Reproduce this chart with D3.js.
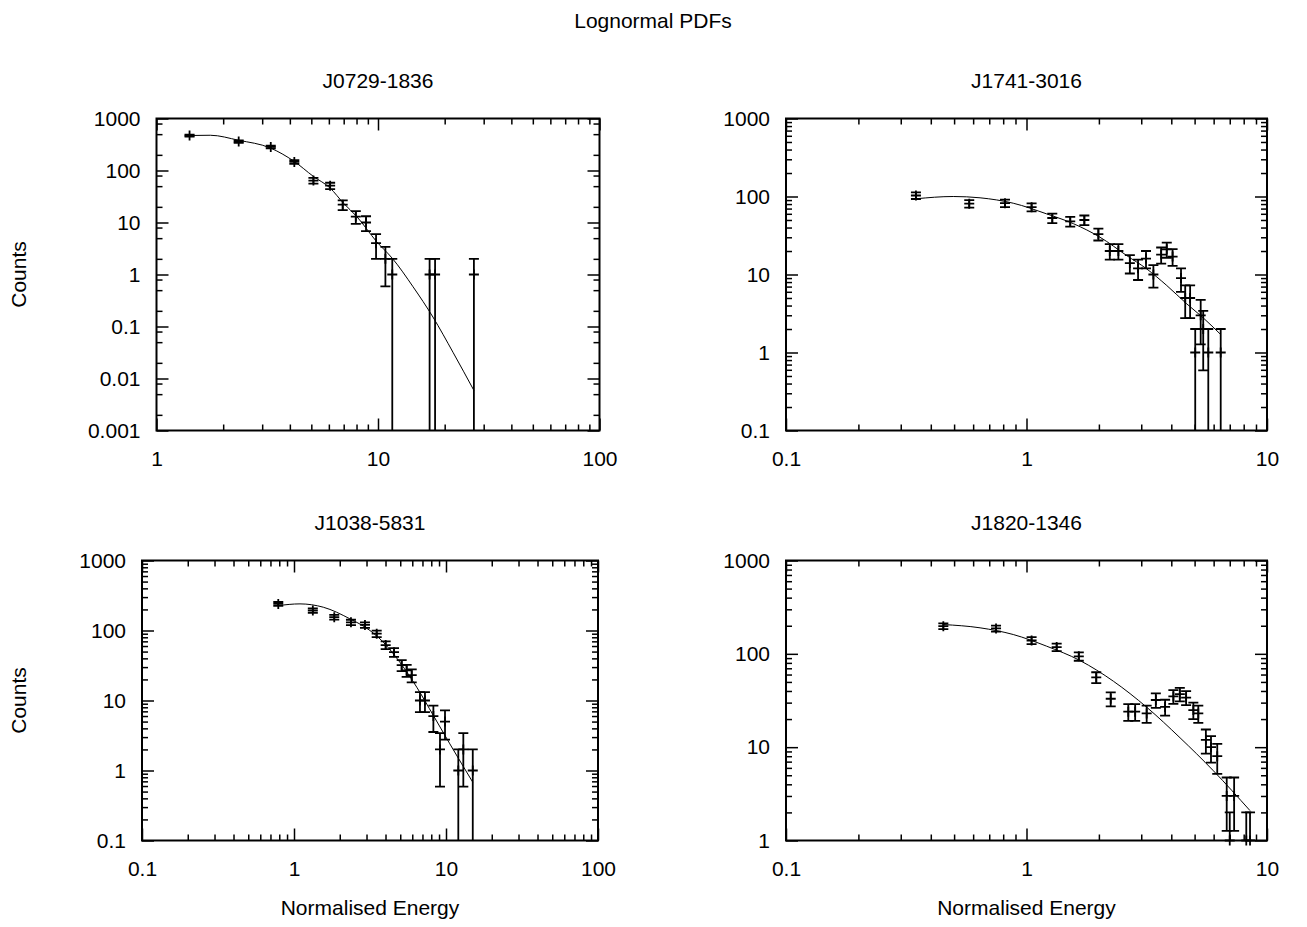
<!DOCTYPE html>
<html>
<head>
<meta charset="utf-8">
<script src="https://cdnjs.cloudflare.com/ajax/libs/d3/7.8.5/d3.min.js"></script>
<style>
  body { margin: 0; background: #fff; }
  text { font-family: "Liberation Sans", Arial, Helvetica, sans-serif; fill: #000; }
</style>
</head>
<body>
<div id="chart"></div>
<script>
// Títulos dos painéis
const names = ["J0729-1836", "J1741-3016", "J1038-5831", "J1820-1346"];

// J0729-1836
const energy1 = [1.41, 2.35, 3.28, 4.19, 5.11, 6.08, 6.93, 7.94, 8.83, 9.8, 10.8, 11.6, 17.1, 18.1, 27.1];
const counts1 = [470, 360, 284, 146, 64, 51, 22, 13, 10, 4, 2, 1, 1, 1, 1];
const errs1 = [21.7, 19, 16.9, 12.1, 8, 7.1, 4.7, 3.6, 3.2, 2, 1.41, 1, 1, 1, 1];
const fitE1 = [1.35, 1.75, 2.35, 3.26, 4.18, 5.11, 6.08, 6.98, 8.02, 9.86, 11.6, 14.4, 17.7, 21.8, 27.1];
const fitC1 = [470, 476, 381, 272, 150, 76.9, 45.9, 23.6, 13.0, 4.28, 2.05, 0.58, 0.152, 0.032, 0.0059];

// J1741-3016
const energy2 = [0.347, 0.578, 0.814, 1.05, 1.28, 1.52, 1.74, 1.99, 2.22, 2.41, 2.69, 2.91, 3.14, 3.37, 3.63, 3.83, 4.05, 4.39, 4.57, 4.79, 5.03, 5.3, 5.43, 5.7, 6.42];
const counts2 = [103, 81, 82, 73, 53, 48, 50, 33, 20, 20, 14, 12, 16, 10, 18, 21, 17, 9, 5, 5, 1, 3, 2, 1, 1];
const errs2 = [10.1, 9, 9.1, 8.5, 7.3, 6.9, 7.1, 5.7, 4.5, 4.5, 3.7, 3.5, 4, 3.2, 4.2, 4.6, 4.1, 3, 2.24, 2.24, 1, 1.73, 1.41, 1, 1];
const fitE2 = [0.347, 0.496, 0.641, 0.881, 1.21, 1.57, 2.02, 2.61, 3.16, 3.83, 4.64, 5.43, 6.42];
const fitC2 = [93.5, 100, 96.2, 82, 60, 44.7, 30.1, 17.5, 11.8, 7.23, 4.2, 2.78, 1.7];

// J1038-5831
const energy3 = [0.788, 1.33, 1.84, 2.37, 2.93, 3.5, 4.01, 4.55, 5.11, 5.51, 5.95, 6.74, 7.27, 8.26, 9.13, 9.85, 12.05, 13.0, 15.0];
const counts3 = [240, 193, 155, 131, 120, 90, 62, 49, 32, 27, 23, 10, 10, 6, 2, 5, 1, 2, 1];
const errs3 = [15.5, 13.9, 12.4, 11.4, 11, 9.5, 7.9, 7, 5.7, 5.2, 4.8, 3.16, 3.16, 2.45, 1.41, 2.24, 1, 1.41, 1];
const fitE3 = [0.788, 1.095, 1.56, 2.33, 3.16, 3.87, 4.98, 6.42, 8.26, 10.6, 15.0];
const fitC3 = [227, 240, 215, 147, 100, 68, 35, 15.5, 6.1, 2.4, 0.68];

// J1820-1346
const energy4 = [0.451, 0.747, 1.05, 1.335, 1.65, 1.95, 2.24, 2.65, 2.83, 3.16, 3.45, 3.77, 4.08, 4.34, 4.61, 4.94, 5.18, 5.57, 5.85, 6.21, 6.8, 7.0, 7.3, 8.2, 8.5];
const counts4 = [198, 187, 139, 118, 94, 56, 33, 24, 24, 23, 32, 27, 35, 37, 34, 25, 23, 12, 10, 8, 3, 1, 3, 1, 1];
const errs4 = [14.1, 13.7, 11.8, 10.9, 9.7, 7.5, 5.7, 4.9, 4.9, 4.8, 5.7, 5.2, 5.9, 6.1, 5.8, 5, 4.8, 3.46, 3.16, 2.83, 1.73, 1, 1.73, 1, 1];
const fitE4 = [0.451, 0.641, 0.881, 1.21, 1.67, 2.3, 3.16, 4.35, 5.98, 8.5];
const fitC4 = [206, 190, 161, 121, 84.7, 50.8, 26.8, 12.6, 5.6, 2.09];

// Marcas dos eixos
const xTicks1 = [1, 10, 100];
const xTicks2 = [0.1, 1, 10];
const xTicks3 = [0.1, 1, 10, 100];
const xTicks4 = [0.1, 1, 10];
const yTicks1 = [0.001, 0.01, 0.1, 1, 10, 100, 1000];
const yTicks2 = [0.1, 1, 10, 100, 1000];
const yTicks3 = [0.1, 1, 10, 100, 1000];
const yTicks4 = [1, 10, 100, 1000];

const W = 1307, H = 927;
const fmt = d3.format("~g");
const fontSize = "21px";

const panels = [
  { name: names[0], e: energy1, c: counts1, err: errs1, fe: fitE1, fc: fitC1, xt: xTicks1, yt: yTicks1,
    box: [156.5, 118.5, 599.5, 430.5], yMinor: [2, 5, 8], ylabel: true, xlabel: false },
  { name: names[1], e: energy2, c: counts2, err: errs2, fe: fitE2, fc: fitC2, xt: xTicks2, yt: yTicks2,
    box: [786, 118.5, 1267, 430.5], yMinor: [2, 3, 4, 5, 6, 7, 8, 9], ylabel: false, xlabel: false },
  { name: names[2], e: energy3, c: counts3, err: errs3, fe: fitE3, fc: fitC3, xt: xTicks3, yt: yTicks3,
    box: [142, 560.5, 598, 840.5], yMinor: [2, 3, 4, 5, 6, 7, 8, 9], ylabel: true, xlabel: true },
  { name: names[3], e: energy4, c: counts4, err: errs4, fe: fitE4, fc: fitC4, xt: xTicks4, yt: yTicks4,
    box: [786, 560.5, 1267, 840.5], yMinor: [2, 3, 4, 5, 6, 7, 8, 9], ylabel: false, xlabel: true }
];

const svg = d3.select("#chart")
  .append("svg")
  .attr("width", W)
  .attr("height", H);

svg.append("rect").attr("width", W).attr("height", H).attr("fill", "#fff");

svg.append("text")
  .attr("x", 653)
  .attr("y", 20)
  .attr("dy", "0.36em")
  .attr("text-anchor", "middle")
  .style("font-size", fontSize)
  .text("Lognormal PDFs");

// marcas menores numa escala log
function minorTicks(dom, mults) {
  const out = [];
  const k0 = Math.floor(Math.log10(dom[0]) + 1e-9);
  const k1 = Math.ceil(Math.log10(dom[1]) - 1e-9);
  for (let k = k0; k < k1; k++) {
    mults.forEach(m => {
      const v = m * Math.pow(10, k);
      if (v > dom[0] * 1.0001 && v < dom[1] * 0.9999) out.push(v);
    });
  }
  return out;
}

function styleAxis(g) {
  g.select(".domain").remove();
  g.selectAll(".tick line").attr("stroke", "#000").attr("stroke-width", 1.5);
  g.selectAll(".tick text").style("font-size", fontSize).attr("fill", "#000");
}

panels.forEach((p, i) => {
  const [x0, y0, x1, y1] = p.box;
  const xDom = [p.xt[0], p.xt[p.xt.length - 1]];
  const yDom = [p.yt[0], p.yt[p.yt.length - 1]];
  const x = d3.scaleLog().domain(xDom).range([x0, x1]);
  const y = d3.scaleLog().domain(yDom).range([y1, y0]);
  const g = svg.append("g").attr("class", "panel");

  const xMin = minorTicks(xDom, [2, 3, 4, 5, 6, 7, 8, 9]);
  const yMin = minorTicks(yDom, p.yMinor);

  // eixo inferior com rótulos
  g.append("g").attr("transform", `translate(0,${y1})`)
    .call(d3.axisBottom(x).tickValues(p.xt).tickFormat(fmt).tickSize(-12).tickPadding(21))
    .call(styleAxis);
  g.append("g").attr("transform", `translate(0,${y1})`)
    .call(d3.axisBottom(x).tickValues(xMin).tickFormat("").tickSize(-6))
    .call(styleAxis);
  // eixo superior espelhado
  g.append("g").attr("transform", `translate(0,${y0})`)
    .call(d3.axisTop(x).tickValues(p.xt).tickFormat("").tickSize(-12))
    .call(styleAxis);
  g.append("g").attr("transform", `translate(0,${y0})`)
    .call(d3.axisTop(x).tickValues(xMin).tickFormat("").tickSize(-6))
    .call(styleAxis);
  // eixo esquerdo com rótulos
  g.append("g").attr("transform", `translate(${x0},0)`)
    .call(d3.axisLeft(y).tickValues(p.yt).tickFormat(fmt).tickSize(-12).tickPadding(16))
    .call(styleAxis);
  g.append("g").attr("transform", `translate(${x0},0)`)
    .call(d3.axisLeft(y).tickValues(yMin).tickFormat("").tickSize(-6))
    .call(styleAxis);
  // eixo direito espelhado
  g.append("g").attr("transform", `translate(${x1},0)`)
    .call(d3.axisRight(y).tickValues(p.yt).tickFormat("").tickSize(-12))
    .call(styleAxis);
  g.append("g").attr("transform", `translate(${x1},0)`)
    .call(d3.axisRight(y).tickValues(yMin).tickFormat("").tickSize(-6))
    .call(styleAxis);

  // moldura
  g.append("rect")
    .attr("x", x0).attr("y", y0)
    .attr("width", x1 - x0).attr("height", y1 - y0)
    .attr("fill", "none").attr("stroke", "#000").attr("stroke-width", 2);

  // recorte da área de dados
  const clipId = "clip" + i;
  svg.append("clipPath").attr("id", clipId)
    .append("rect").attr("x", x0).attr("y", y0).attr("width", x1 - x0).attr("height", y1 - y0);

  const data = p.e.map((e, j) => ({ e: e, c: p.c[j], err: p.err[j] }));
  const plot = g.append("g").attr("clip-path", `url(#${clipId})`);

  // curva ajustada
  const fit = p.fe.map((e, j) => [e, p.fc[j]]);
  plot.append("path")
    .datum(fit)
    .attr("fill", "none")
    .attr("stroke", "#000")
    .attr("stroke-width", 1)
    .attr("d", d3.line().x(d => x(d[0])).y(d => y(d[1])).curve(d3.curveMonotoneX));

  // barras de erro
  const cap = 5;
  const bars = plot.selectAll(".bar").data(data).enter().append("g").attr("class", "bar")
    .attr("stroke", "#000").attr("stroke-width", 1.8).attr("fill", "none");
  bars.append("line")
    .attr("x1", d => x(d.e)).attr("x2", d => x(d.e))
    .attr("y1", d => y(d.c + d.err))
    .attr("y2", d => (d.c - d.err > yDom[0] ? y(d.c - d.err) : y1 + 2));
  bars.append("line")
    .attr("x1", d => x(d.e) - cap).attr("x2", d => x(d.e) + cap)
    .attr("y1", d => y(d.c + d.err)).attr("y2", d => y(d.c + d.err));
  bars.filter(d => d.c - d.err > yDom[0]).append("line")
    .attr("x1", d => x(d.e) - cap).attr("x2", d => x(d.e) + cap)
    .attr("y1", d => y(d.c - d.err)).attr("y2", d => y(d.c - d.err));

  // pontos (+)
  g.selectAll(".pt").data(data).enter().append("path").attr("class", "pt")
    .attr("stroke", "#000").attr("stroke-width", 1.8).attr("fill", "none")
    .attr("d", d => {
      const px = x(d.e), py = y(d.c), s = 5;
      return `M${px - s},${py}H${px + s}M${px},${py - s}V${py + s}`;
    });

  // títulos
  g.append("text")
    .attr("x", (x0 + x1) / 2)
    .attr("y", y0 - 38)
    .attr("dy", "0.36em")
    .attr("text-anchor", "middle")
    .style("font-size", fontSize)
    .text(p.name);

  if (p.ylabel) {
    g.append("text")
      .attr("transform", `translate(18,${(y0 + y1) / 2}) rotate(-90)`)
      .attr("dy", "0.36em")
      .attr("text-anchor", "middle")
      .style("font-size", fontSize)
      .text("Counts");
  }
  if (p.xlabel) {
    g.append("text")
      .attr("x", (x0 + x1) / 2)
      .attr("y", 907)
      .attr("dy", "0.36em")
      .attr("text-anchor", "middle")
      .style("font-size", fontSize)
      .text("Normalised Energy");
  }
});
</script>
</body>
</html>
